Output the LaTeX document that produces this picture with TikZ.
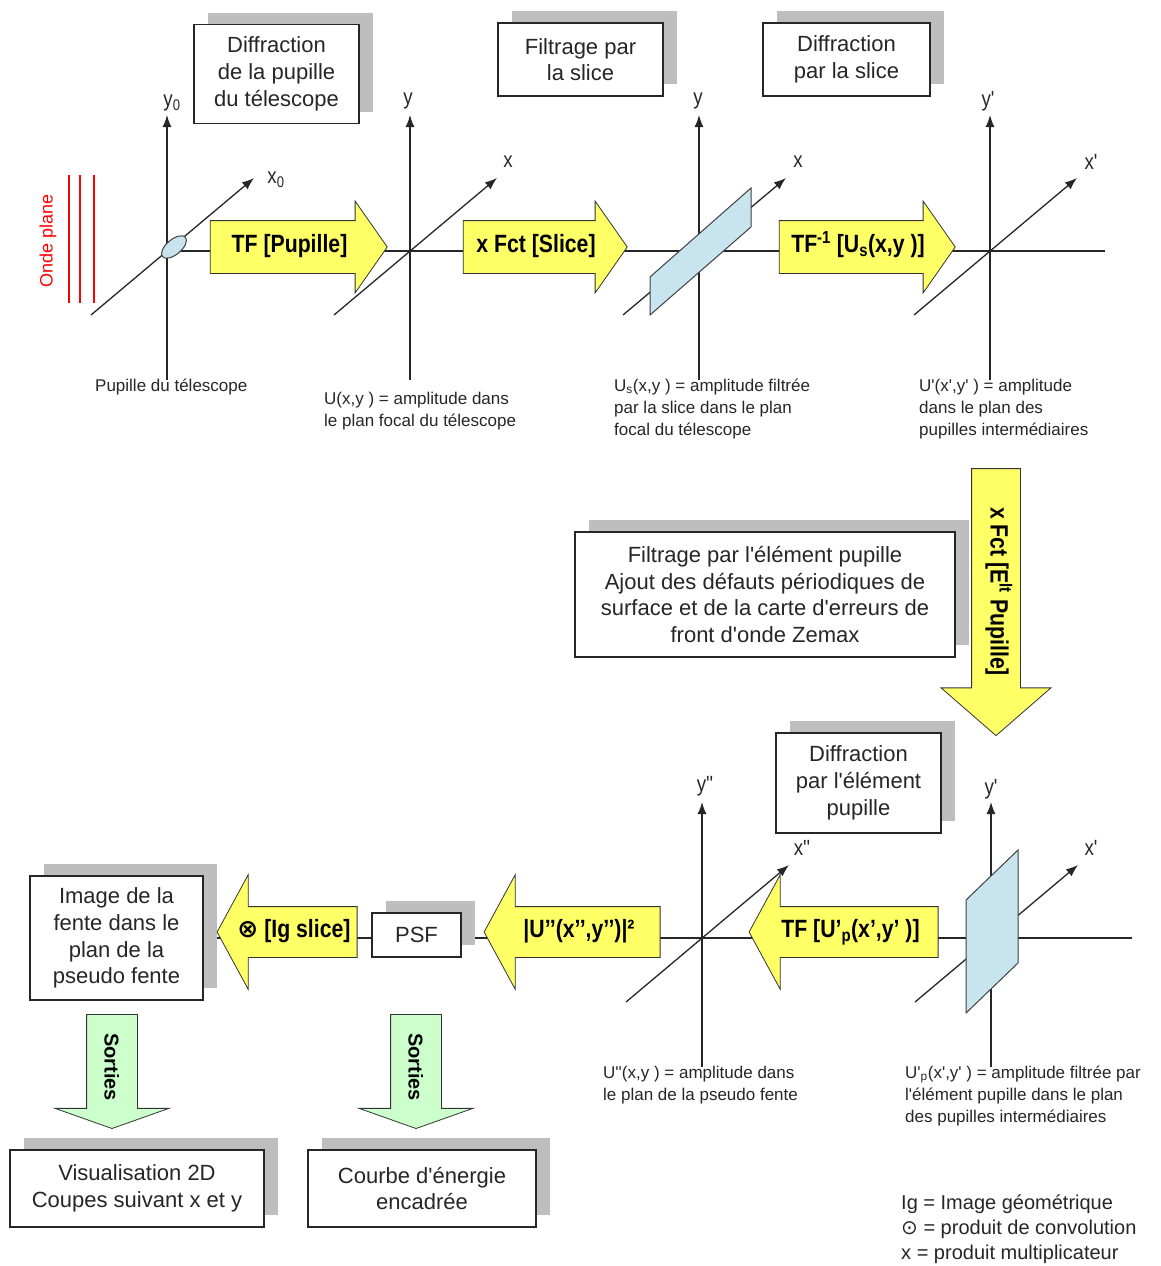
\documentclass[tikz,border=0pt]{standalone}
\usepackage{fontspec}
\setmainfont{Liberation Sans}[Ligatures=TeXOff]
\newfontfamily\narrowfont{Liberation Sans}[FakeStretch=0.85,Ligatures=TeXOff]
\newfontfamily\symbfont{DejaVu Sans}
\usetikzlibrary{shapes.arrows, arrows.meta, shadows, backgrounds}
\definecolor{yel}{RGB}{255,255,102}
\definecolor{mint}{RGB}{204,255,204}
\definecolor{slabblue}{RGB}{200,228,238}
\definecolor{shade}{RGB}{190,190,190}
\tikzstyle{box}=[draw=black!85,line width=1.3pt,fill=white,align=center,inner sep=0pt,text=black!85,font=\fontsize{22}{26.7}\selectfont,general shadow={fill=shade,shadow xshift=14pt,shadow yshift=12pt}]
\tikzstyle{axis}=[line width=1.3pt,black!85,-{Latex[length=12pt,width=9pt]}]
\tikzstyle{hline}=[line width=1.3pt,black!85]
\tikzstyle{slab}=[fill=slabblue,draw=black!75,line width=1pt]
\tikzstyle{wave}=[red,line width=1.6pt]
\tikzstyle{lab}=[inner sep=0pt,text=black!85,font=\narrowfont\fontsize{22}{22}\selectfont]
\tikzstyle{captxt}=[anchor=base west,align=left,inner sep=0pt,text=black!85,font=\fontsize{17}{22}\selectfont]
\tikzstyle{legtxt}=[anchor=base west,align=left,inner sep=0pt,text=black!85,font=\fontsize{20}{25}\selectfont]
\tikzstyle{fat}=[single arrow,draw=black!80,line width=0.8pt,fill=yel,inner xsep=0pt,text height=17pt,text depth=6pt,font=\narrowfont\bfseries\fontsize{25}{25}\selectfont]
\tikzstyle{rfat}=[fat,inner ysep=14.5pt,minimum width=91pt,single arrow head extend=19.5pt,single arrow tip angle=110]
\tikzstyle{lfat}=[fat,inner ysep=13.5pt,minimum width=114pt,single arrow head extend=32pt,single arrow tip angle=123,shape border rotate=180]
\tikzstyle{vfat}=[fat,rotate=-90,inner ysep=12.5pt,minimum width=109pt,single arrow head extend=30.5pt,single arrow tip angle=98]
\tikzstyle{sortie}=[single arrow,draw=black!80,line width=0.8pt,fill=mint,rotate=-90,inner xsep=0pt,text height=15pt,text depth=0pt,inner ysep=17.5pt,minimum width=113pt,minimum height=114pt,single arrow head extend=31.5pt,single arrow tip angle=141,font=\bfseries\fontsize{20}{20}\selectfont]

\begin{document}
\begin{tikzpicture}[x=1pt,y=-1pt]
\useasboundingbox (0,0) rectangle (1161,1266);
\node[box,minimum width=165pt,minimum height=99pt] (difpup) at (276.5,74) {Diffraction\\de la pupille\\du télescope};
\node[box,minimum width=165pt,minimum height=73pt] (filsl) at (580.5,59.5) {Filtrage par\\la slice};
\node[box,minimum width=167pt,minimum height=73pt] (difsl) at (846.5,59.5) {Diffraction\\par la slice};
\node[box,minimum width=380pt,minimum height=125pt] (filelt) at (765,594.5) {Filtrage par l'élément pupille\\Ajout des défauts périodiques de\\surface et de la carte d'erreurs de\\front d'onde Zemax};
\node[box,minimum width=165pt,minimum height=100pt] (difelt) at (858.5,783) {Diffraction\\par l'élément\\pupille};
\node[box,minimum width=173pt,minimum height=124pt] (imfente) at (116.5,938) {Image de la\\fente dans le\\plan de la\\pseudo fente};
\node[box,minimum width=89pt,minimum height=44pt] (psf) at (416.5,935) {PSF};
\node[box,minimum width=254pt,minimum height=77pt] (visu) at (137,1188.5) {Visualisation 2D\\Coupes suivant x et y};
\node[box,minimum width=228pt,minimum height=77pt] (courbe) at (422,1188.5) {Courbe d'énergie\\encadrée};
\begin{scope}[on background layer]
\foreach \n/\ox/\oy in {1/167/251,2/410/251,3/699/251,4/990/251,5/702/938,6/991/938}{
  \coordinate (o\n) at (\ox,\oy);
  \draw[axis] (\ox,\oy+129) -- (\ox,\oy-136);
  \draw[axis] (\ox-76,\oy+64) -- (\ox+87,\oy-73);}
\coordinate (e1) at (1105,251);
\coordinate (e2) at (1132,938);
\draw[hline] (o1) -- (e1);
\draw[hline] (imfente.east) -- (e2);
\end{scope}
\filldraw[slab] (650,277) -- (751,188) -- (751,227) -- (650,315) -- cycle;
\filldraw[slab] (966,900) -- (1018,850) -- (1018,963) -- (966,1013) -- cycle;
\filldraw[slab,rotate around={40:(174,247)}] (174,247) ellipse (15 and 7.5);
\foreach \x in {69,80,94} \draw[wave] (\x,175) -- (\x,303);
\node[rotate=90,text=red,font=\fontsize{18}{18}\selectfont] (onde) at (48,241) {Onde plane};
\node[rfat,minimum height=177pt] (tfpup) at (289.5,247) {TF [Pupille]};
\node[rfat,minimum height=164pt] (fctsl) at (536,247) {x Fct [Slice]};
\node[rfat,minimum height=176pt] (tfinv) at (858,247) {TF\textsuperscript{-1} [U\textsubscript{s}(x,y )]};
\node[vfat,minimum height=267pt] (fctelt) at (996,591.5) {x Fct [E\textsuperscript{lt} Pupille]};
\node[lfat,minimum height=189pt] (tfup) at (850.5,932) {TF [U’\textsubscript{p}(x’,y’ )]};
\node[lfat,minimum height=176pt] (modu) at (579,932) {|U’’(x’’,y’’)|²};
\node[lfat,minimum height=140pt] (conv) at (294,932) {{\symbfont ⊗} [Ig slice]};
\node[sortie] (sort1) at (112,1067) {Sorties};
\node[sortie] (sort2) at (416,1067) {Sorties};
\foreach \n/\px/\py/\t in {ly1/172/103/{y\textsubscript{0}},lx1/276/180/{x\textsubscript{0}},ly2/408/101/y,lx2/508/162/x,ly3/698/101/y,lx3/798/162/x,ly4/988/101/y',lx4/1091/162/x',ly5/705/786/y'',lx5/802/848/x'',ly6/991/789/y',lx6/1091/848/x'}
  \node[lab] (\n) at (\px,\py) {\t};
\node[captxt] (cpup) at (95,391) {Pupille du télescope};
\node[captxt] (cu) at (324,426) {U(x,y ) = amplitude dans\\le plan focal du télescope};
\node[captxt] (cus) at (614,435) {U\textsubscript{s}(x,y ) = amplitude filtrée\\par la slice dans le plan\\focal du télescope};
\node[captxt] (cup) at (919,435) {U'(x',y' ) = amplitude\\dans le plan des\\pupilles intermédiaires};
\node[captxt] (cupp) at (603,1100) {U''(x,y ) = amplitude dans\\le plan de la pseudo fente};
\node[captxt] (cupf) at (905,1122) {U'\textsubscript{p}(x',y' ) = amplitude filtrée par\\l'élément pupille dans le plan\\des pupilles intermédiaires};
\node[legtxt] (leg) at (901,1259) {Ig = Image géométrique\\{\symbfont ⊙} = produit de convolution\\x = produit multiplicateur};
\end{tikzpicture}
\end{document}
